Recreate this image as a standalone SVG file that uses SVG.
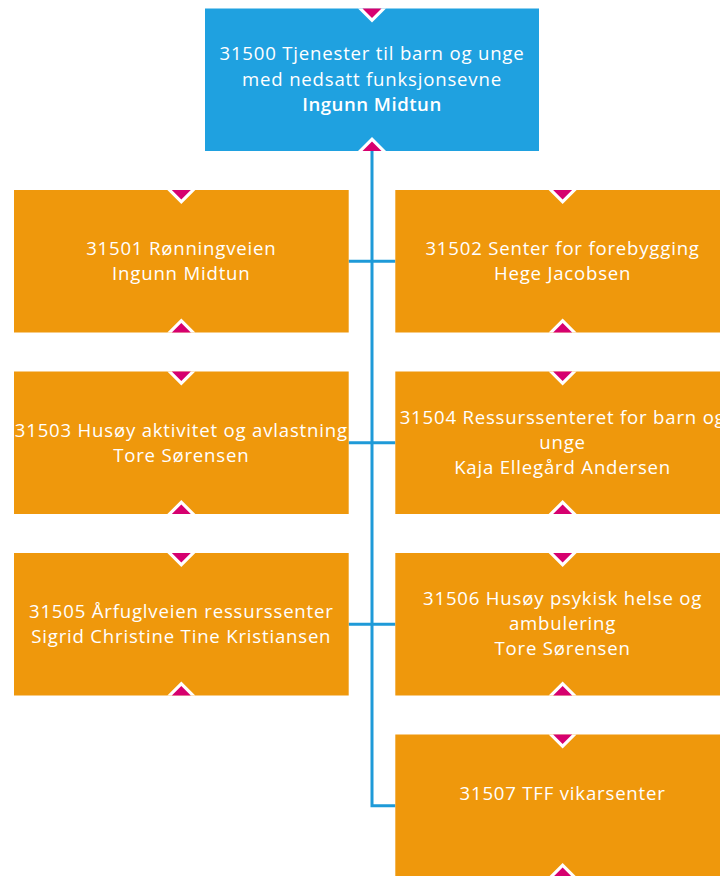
<svg xmlns="http://www.w3.org/2000/svg" xmlns:xlink="http://www.w3.org/1999/xlink" width="720" height="876" viewBox="0 0 720 876">
  <style>
    .blue { fill: #1FA1E0; }
    .orange { fill: #EF980C; }
    .t { font-family: "Open Sans", "Noto Sans", "DejaVu Sans", sans-serif; font-size: 18.6px; letter-spacing: 0.8px; fill: #FFFFFF; text-anchor: middle; }
    .b { font-weight: 600; letter-spacing: 0.5px; }
    .conn { fill: none; stroke: #1E9AD8; stroke-width: 3; }
  </style>
  <defs>
    <g id="mk-top">
      <polygon points="-14,0 0,14 14,0" fill="#FFFFFF"/>
      <polygon points="-9.5,0 0,9.5 9.5,0" fill="#D6006F"/>
    </g>
    <g id="mk-bot">
      <polygon points="-14,0 0,-14 14,0" fill="#FFFFFF"/>
      <polygon points="-9.5,0 0,-9.5 9.5,0" fill="#D6006F"/>
    </g>
  </defs>
  <rect width="720" height="876" fill="#FFFFFF"/>

  <g id="connectors">
    <path class="conn" d="M372,151 V805.75 H395.3"/>
    <path class="conn" d="M348.7,261.25 H395.3"/>
    <path class="conn" d="M348.7,442.75 H395.3"/>
    <path class="conn" d="M348.7,624.25 H395.3"/>
  </g>

  <g id="n31500">
    <rect class="blue" x="205" y="8.5" width="334" height="142.5"/>
    <use xlink:href="#mk-top" x="372" y="8.5"/>
    <use xlink:href="#mk-bot" x="372" y="151"/>
    <text class="t" x="372" y="60">31500 Tjenester til barn og unge</text>
    <text class="t" x="372" y="85.5">med nedsatt funksjonsevne</text>
    <text class="t b" x="372" y="110.5">Ingunn Midtun</text>
  </g>

  <g id="n31501">
    <rect class="orange" x="14" y="190" width="334.7" height="142.5"/>
    <use xlink:href="#mk-top" x="181.3" y="190"/>
    <use xlink:href="#mk-bot" x="181.3" y="332.5"/>
    <text class="t" x="181.3" y="255">31501 Rønningveien</text>
    <text class="t" x="181.3" y="280">Ingunn Midtun</text>
  </g>

  <g id="n31502">
    <rect class="orange" x="395.3" y="190" width="334.7" height="142.5"/>
    <use xlink:href="#mk-top" x="562.6" y="190"/>
    <use xlink:href="#mk-bot" x="562.6" y="332.5"/>
    <text class="t" x="562.6" y="255">31502 Senter for forebygging</text>
    <text class="t" x="562.6" y="280">Hege Jacobsen</text>
  </g>

  <g id="n31503">
    <rect class="orange" x="14" y="371.5" width="334.7" height="142.5"/>
    <use xlink:href="#mk-top" x="181.3" y="371.5"/>
    <use xlink:href="#mk-bot" x="181.3" y="514"/>
    <text class="t" x="181.3" y="436.5">31503 Husøy aktivitet og avlastning</text>
    <text class="t" x="181.3" y="461.5">Tore Sørensen</text>
  </g>

  <g id="n31504">
    <rect class="orange" x="395.3" y="371.5" width="334.7" height="142.5"/>
    <use xlink:href="#mk-top" x="562.6" y="371.5"/>
    <use xlink:href="#mk-bot" x="562.6" y="514"/>
    <text class="t" x="562.6" y="423.5">31504 Ressurssenteret for barn og</text>
    <text class="t" x="562.6" y="448.5">unge</text>
    <text class="t" x="562.6" y="473.5">Kaja Ellegård Andersen</text>
  </g>

  <g id="n31505">
    <rect class="orange" x="14" y="553" width="334.7" height="142.5"/>
    <use xlink:href="#mk-top" x="181.3" y="553"/>
    <use xlink:href="#mk-bot" x="181.3" y="695.5"/>
    <text class="t" x="181.3" y="618">31505 Årfuglveien ressurssenter</text>
    <text class="t" x="181.3" y="643">Sigrid Christine Tine Kristiansen</text>
  </g>

  <g id="n31506">
    <rect class="orange" x="395.3" y="553" width="334.7" height="142.5"/>
    <use xlink:href="#mk-top" x="562.6" y="553"/>
    <use xlink:href="#mk-bot" x="562.6" y="695.5"/>
    <text class="t" x="562.6" y="605">31506 Husøy psykisk helse og</text>
    <text class="t" x="562.6" y="630">ambulering</text>
    <text class="t" x="562.6" y="655">Tore Sørensen</text>
  </g>

  <g id="n31507">
    <rect class="orange" x="395.3" y="734.5" width="334.7" height="142.5"/>
    <use xlink:href="#mk-top" x="562.6" y="734.5"/>
    <use xlink:href="#mk-bot" x="562.6" y="877"/>
    <text class="t" x="562.6" y="800">31507 TFF vikarsenter</text>
  </g>
</svg>
